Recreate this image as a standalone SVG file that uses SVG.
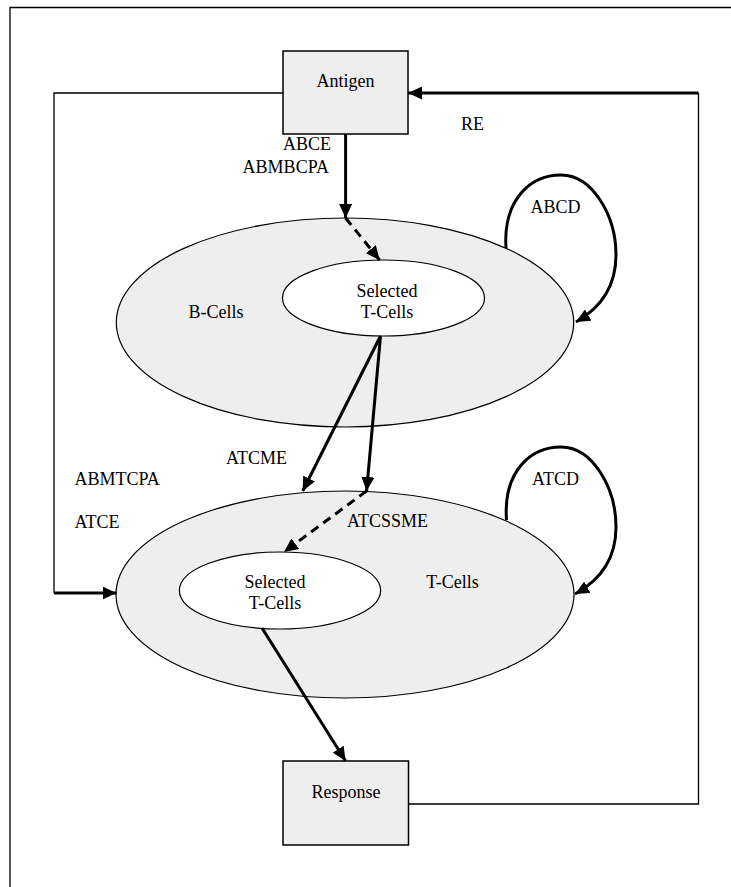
<svg xmlns="http://www.w3.org/2000/svg" width="731" height="887" viewBox="0 0 731 887">
<style>
.lbl{font-family:"Liberation Serif","Times New Roman",serif;font-size:18px;fill:#000}
.c{text-anchor:middle}
.r{text-anchor:end}
.box{fill:#eeeeee;stroke:#000;stroke-width:1.5}
.cell{fill:#eeeeee;stroke:#000;stroke-width:1.2}
.sel{fill:#ffffff;stroke:#000;stroke-width:1.2}
.thin{fill:none;stroke:#000;stroke-width:1.3}
.bold{fill:none;stroke:#000;stroke-width:3}
.dash{fill:none;stroke:#000;stroke-width:3;stroke-dasharray:9 6}
</style>
<defs>
<marker id="ah" markerUnits="userSpaceOnUse" markerWidth="14" markerHeight="13" refX="14" refY="6.5" orient="auto">
<path d="M0,0 L14,6.5 L0,13 z" fill="#000"/>
</marker>
</defs>
<rect x="0" y="0" width="731" height="887" fill="#fff"/>
<path d="M10,887 L10,7.5 L731,7.5" fill="none" stroke="#000" stroke-width="1.3"/>

<g id="bcells">
<ellipse class="cell" cx="345" cy="322.5" rx="228.7" ry="104.5"/>
<text class="lbl c" x="216" y="318">B-Cells</text>
</g>
<g id="bsel">
<ellipse class="sel" cx="383.5" cy="298" rx="101" ry="38"/>
<text class="lbl c" x="387" y="297">Selected</text>
<text class="lbl c" x="387" y="318">T-Cells</text>
</g>
<g id="tcells">
<ellipse class="cell" cx="345" cy="594.5" rx="229" ry="103.5"/>
<text class="lbl c" x="452.5" y="588">T-Cells</text>
</g>
<g id="tsel">
<ellipse class="sel" cx="280" cy="590.5" rx="100.6" ry="38.5"/>
<text class="lbl c" x="275" y="588">Selected</text>
<text class="lbl c" x="275" y="609">T-Cells</text>
</g>
<g id="antigen">
<rect class="box" x="283" y="51" width="125" height="83"/>
<text class="lbl c" x="345.5" y="87">Antigen</text>
</g>
<g id="response">
<rect class="box" x="283" y="761" width="125.5" height="84"/>
<text class="lbl c" x="346" y="798">Response</text>
</g>

<g id="connectors">
<path class="thin" d="M283,93 L54,93 L54,593"/>
<path class="bold" d="M54,593 L116.5,593" marker-end="url(#ah)"/>
<path class="thin" d="M408.5,804 L698.5,804 L698.5,93"/>
<path class="bold" d="M698.5,93 L408,93" marker-end="url(#ah)"/>
<path class="bold" d="M345.6,134 L345.6,218" marker-end="url(#ah)"/>
<path class="dash" d="M345.6,218 L379.6,260" marker-end="url(#ah)"/>
<path class="bold" d="M506,248 C503,200 530,175 561,175 C592,175 616,215 616,255 C616,290 597,310 576,322" marker-end="url(#ah)"/>
<path class="bold" d="M380.5,336 L302.7,491" marker-end="url(#ah)"/>
<path class="bold" d="M380.5,336 L366.6,491" marker-end="url(#ah)"/>
<path class="dash" d="M366.6,491 L284,552" marker-end="url(#ah)"/>
<path class="bold" d="M506.5,520 C503,472 530,447 561,447 C592,447 616,487 616,527 C616,562 597,582 575,594" marker-end="url(#ah)"/>
<path class="bold" d="M262,628 L345.6,761" marker-end="url(#ah)"/>
</g>

<g id="labels">
<text class="lbl r" x="331" y="150">ABCE</text>
<text class="lbl r" x="329" y="173">ABMBCPA</text>
<text class="lbl c" x="472.5" y="130">RE</text>
<text class="lbl c" x="555.5" y="213">ABCD</text>
<text class="lbl" x="226" y="464">ATCME</text>
<text class="lbl" x="74.5" y="485">ABMTCPA</text>
<text class="lbl" x="74.5" y="528">ATCE</text>
<text class="lbl" x="347" y="527">ATCSSME</text>
<text class="lbl c" x="555.5" y="485">ATCD</text>
</g>
</svg>
